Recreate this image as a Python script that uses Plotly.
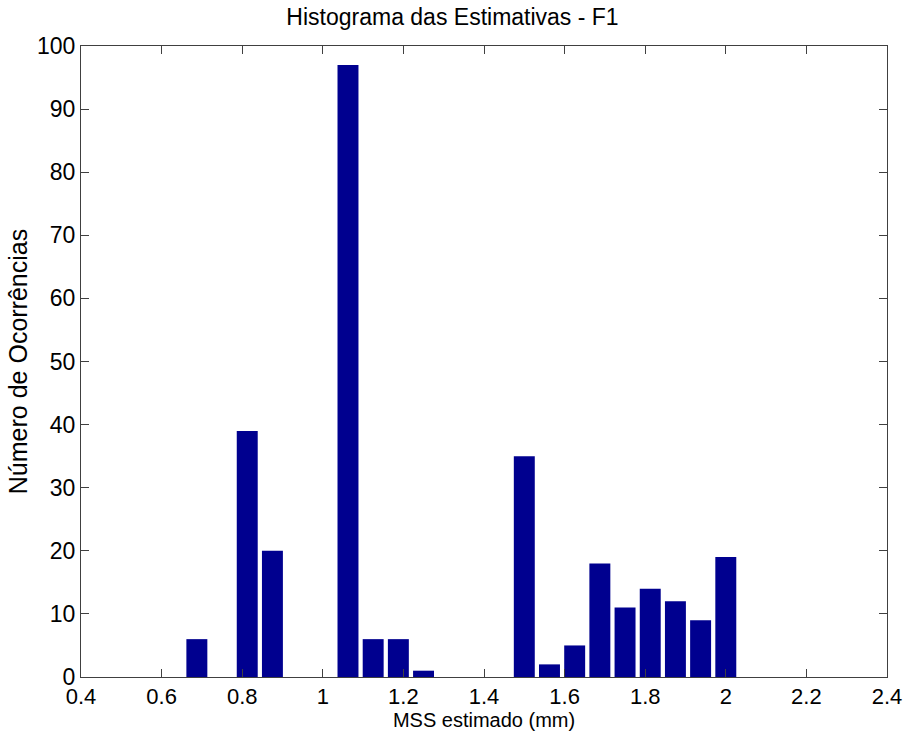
import plotly.graph_objects as go

bin_centers = [0.6875 + 0.0625 * i for i in range(22)]
counts = [6, 0, 39, 20, 0, 0, 97, 6, 6, 1, 0, 0, 0, 35, 2, 5, 18, 11, 14, 12, 9, 19]
x_ticks = [0.4, 0.6, 0.8, 1.0, 1.2, 1.4, 1.6, 1.8, 2.0, 2.2, 2.4]
x_tick_labels = ["0.4", "0.6", "0.8", "1", "1.2", "1.4", "1.6", "1.8", "2", "2.2", "2.4"]
y_ticks = list(range(0, 101, 10))

font_family = "Liberation Sans, Arial, sans-serif"

fig = go.Figure(go.Bar(
    x=bin_centers, y=counts, width=0.052,
    marker=dict(color="#00008F", line=dict(width=0)),
))

fig.update_layout(
    width=905, height=736,
    margin=dict(l=81, r=18, t=46, b=59),
    paper_bgcolor="white", plot_bgcolor="white",
    showlegend=False,
    title=dict(text="Histograma das Estimativas - F1", x=0.5, xanchor="center",
               y=1 - 17 / 736, yanchor="middle",
               font=dict(family=font_family, size=23, color="black")),
    font=dict(family=font_family, color="black"),
)

fig.update_xaxes(
    range=[0.4, 2.4], tickvals=x_ticks, ticktext=x_tick_labels,
    ticks="inside", ticklen=8, tickcolor="#404040", tickwidth=1,
    showline=True, linecolor="#404040", linewidth=1, mirror="ticks",
    showgrid=False, zeroline=False, automargin=False,
    tickfont=dict(family=font_family, size=22, color="black"),
    title=dict(text="MSS estimado (mm)", standoff=3,
               font=dict(family=font_family, size=20, color="black")),
)
fig.update_yaxes(
    range=[0, 100], tickvals=y_ticks,
    ticks="inside", ticklen=8, tickcolor="#404040", tickwidth=1,
    showline=True, linecolor="#404040", linewidth=1, mirror="ticks",
    showgrid=False, zeroline=False, automargin=False,
    tickfont=dict(family=font_family, size=23, color="black"),
    title=dict(text="Número de Ocorrências", standoff=2,
               font=dict(family=font_family, size=25, color="black")),
)

fig.write_html("out.html", config={"displayModeBar": False},
               post_script="document.body.style.margin='0';")
